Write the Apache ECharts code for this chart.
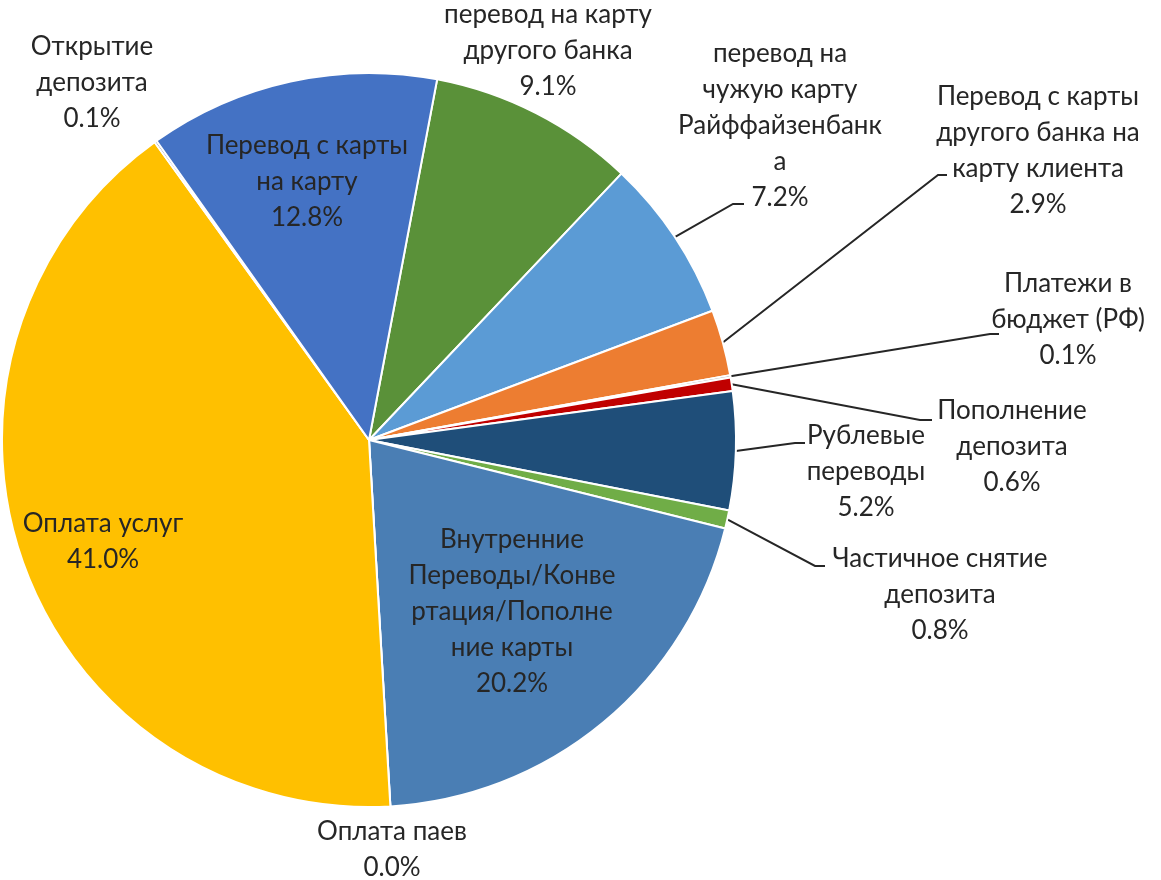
<!DOCTYPE html>
<html>
<head>
<meta charset="utf-8">
<script src="https://cdn.jsdelivr.net/npm/echarts@6/dist/echarts.min.js"></script>
<style>
html,body{margin:0;padding:0;background:#fff;}
#chart{width:1161px;height:880px;}
</style>
</head>
<body>
<div id="chart"></div>
<script>
// ---- data (clockwise order) ----
const categories = [
  'перевод на карту\nдругого банка',
  'перевод на\nчужую карту\nРайффайзенбанк\nа',
  'Перевод с карты\nдругого банка на\nкарту клиента',
  'Платежи в\nбюджет (РФ)',
  'Пополнение\nдепозита',
  'Рублевые\nпереводы',
  'Частичное снятие\nдепозита',
  'Внутренние\nПереводы/Конве\nртация/Пополне\nние карты',
  'Оплата паев',
  'Оплата услуг',
  'Открытие\nдепозита',
  'Перевод с карты\nна карту'
];
const shares = [9.1, 7.2, 2.9, 0.1, 0.6, 5.2, 0.8, 20.2, 0.0, 41.0, 0.1, 12.8];

// ---- styles / layout (not data) ----
const colors = ['#5A9139','#5B9BD5','#ED7D31','#A5A5A5','#C00000','#1F4E79','#70AD47','#4A7EB4','#7F7F7F','#FFC000','#264478','#4472C4'];
// label centre positions [x, y]
const labelPos = [
  [548, 51], [780, 126], [1038, 151], [1068, 320], [1012, 447], [866, 472],
  [940, 595], [512, 612], [392, 850], [103, 542], [92, 83], [307, 182]
];
// leader line elbow + end points (null = no line)
const leader = [
  null,
  [[733, 204], [744, 204]],
  [[938, 175], [947, 175]],
  [[990, 334], [999, 334]],
  [[920, 420], [932, 420]],
  [[795, 443], [805, 443]],
  [[815, 566], [825, 566]],
  null, null, null, null, null
];

const FONT = 'Lato, Carlito, "Noto Sans", sans-serif';

const data = categories.map((c, i) => ({
  name: c,
  value: shares[i],
  itemStyle: { color: colors[i] },
  labelLine: { show: !!leader[i] }
}));

const chart = echarts.init(document.getElementById('chart'), null, { renderer: 'canvas' });
chart.setOption({
  animation: false,
  series: [{
    type: 'pie',
    center: [369, 440],
    radius: 367,
    startAngle: 79.3,
    clockwise: true,
    avoidLabelOverlap: false,
    minAngle: 0,
    itemStyle: { borderColor: '#ffffff', borderWidth: 2 },
    label: {
      show: true,
      position: 'outside',
      formatter: p => p.name + '\n' + p.value.toFixed(1) + '%',
      fontFamily: FONT,
      fontSize: 26,
      lineHeight: 36,
      color: '#262626',
      align: 'center'
    },
    labelLine: {
      show: true,
      length: 10,
      length2: 10,
      lineStyle: { color: '#262626', width: 2 }
    },
    labelLayout: function (params) {
      const i = params.dataIndex;
      const pos = labelPos[i];
      const res = { x: pos[0], y: pos[1], align: 'center', verticalAlign: 'middle' };
      if (leader[i]) {
        const start = (params.labelLinePoints && params.labelLinePoints[0]) ? params.labelLinePoints[0] : leader[i][0];
        res.labelLinePoints = [start, leader[i][0], leader[i][1]];
      }
      return res;
    },
    data: data
  }]
});
</script>
</body>
</html>
